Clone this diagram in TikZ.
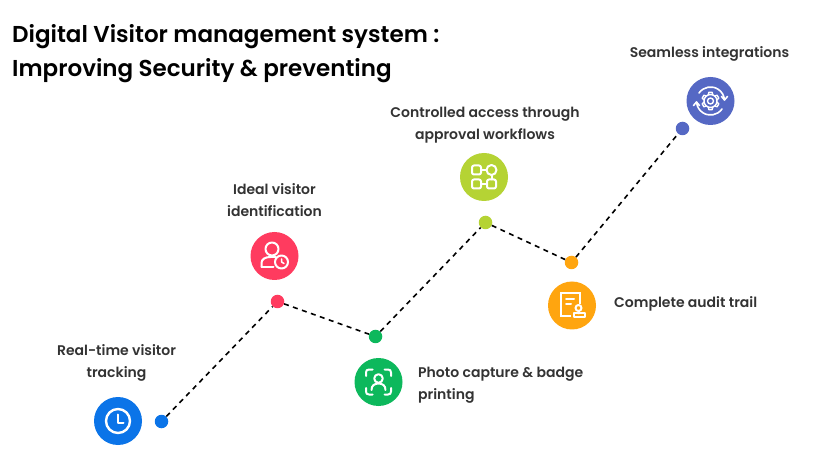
\documentclass[tikz,border=0pt]{standalone}
\usepackage{fontspec}
\setmainfont{Poppins}[UprightFont=* SemiBold,BoldFont=* SemiBold]
\usetikzlibrary{arrows.meta}
\definecolor{cblue}{HTML}{0B74E8}
\definecolor{cred}{HTML}{FF3B5F}
\definecolor{cgreen}{HTML}{0DB85C}
\definecolor{clime}{HTML}{B5D334}
\definecolor{corange}{HTML}{FFA50F}
\definecolor{cindigo}{HTML}{5568C4}
\definecolor{ctext}{HTML}{333333}
\tikzset{
  badge/.style={circle,fill=#1,minimum size=48pt,inner sep=0pt},
  dotpt/.style={circle,fill=#1,minimum size=13.5pt,inner sep=0pt},
  link/.style={draw=black,line width=1.6pt,dash pattern=on 5pt off 4.5pt},
  lbl/.style={font=\fontsize{14pt}{22pt}\selectfont,text=ctext,inner sep=0pt},
  ttl/.style={font=\fontsize{23pt}{33.5pt}\selectfont,text=black,inner sep=0pt,align=left,anchor=north west},
  ico/.style={draw=white,line width=2pt,fill=none,line cap=round,line join=round}
}
\begin{document}
\begin{tikzpicture}[x=1pt,y=-1pt]
\useasboundingbox (0,0) rectangle (822,470);
\fill[white] (0,0) rectangle (822,470);
\node[ttl] (title) at (12,24.5) {Digital Visitor management system :\\Improving Security \& preventing};

\node[dotpt=cblue] (d1) at (161.5,421.5) {};
\node[dotpt=cred] (d2) at (277.5,301.5) {};
\node[dotpt=cgreen] (d3) at (375.5,336.5) {};
\node[dotpt=clime] (d4) at (485.5,222.5) {};
\node[dotpt=corange] (d5) at (571.5,262.5) {};
\node[dotpt=cindigo] (d6) at (682.5,128.5) {};
\draw[link] (d1) -- (d2);
\draw[link] (d2) -- (d3);
\draw[link] (d3) -- (d4);
\draw[link] (d4) -- (d5);
\draw[link] (d5) -- (d6);

\node[badge=cblue] (b1) at (118,421) {};
\node[badge=cred] (b2) at (274.5,256) {};
\node[badge=cgreen] (b3) at (378.5,382) {};
\node[badge=clime] (b4) at (484,177) {};
\node[badge=corange] (b5) at (572,305.5) {};
\node[badge=cindigo] (b6) at (710.5,101) {};

% clock
\begin{scope}[shift={(b1.center)}]
\draw[ico,line width=2.4pt] (0,0) circle (12);
\draw[ico] (0,-6.5) -- (0,1.5) -- (5.5,1.5);
\end{scope}
% person with clock
\begin{scope}[shift={(b2.center)}]
\draw[ico] (-2.5,-7) circle (6.5);
\draw[ico] (-13,11) -- (-13,7) .. controls (-13,3) and (-9,1) .. (-4,1) -- (1,1);
\draw[ico] (-13,11) -- (-1,11);
\draw[ico] (7,6) circle (6.5);
\draw[ico,line width=1.5pt] (7,3) -- (7,6) -- (9.5,7.5);
\end{scope}
% face scan
\begin{scope}[shift={(b3.center)}]
\draw[ico] (-12.5,-6) -- (-12.5,-9.5) .. controls (-12.5,-11.5) and (-11.5,-12.5) .. (-9.5,-12.5) -- (-6,-12.5);
\draw[ico] (12.5,-6) -- (12.5,-9.5) .. controls (12.5,-11.5) and (11.5,-12.5) .. (9.5,-12.5) -- (6,-12.5);
\draw[ico] (-12.5,6) -- (-12.5,9.5) .. controls (-12.5,11.5) and (-11.5,12.5) .. (-9.5,12.5) -- (-6,12.5);
\draw[ico] (12.5,6) -- (12.5,9.5) .. controls (12.5,11.5) and (11.5,12.5) .. (9.5,12.5) -- (6,12.5);
\draw[ico] (0,-3.5) circle (4.3);
\draw[ico] (-7,8) .. controls (-7,3.5) and (-4,1.5) .. (0,1.5) .. controls (4,1.5) and (7,3.5) .. (7,8);
\end{scope}
% workflow
\begin{scope}[shift={(b4.center)}]
\draw[ico,rounded corners=2pt] (-12,-11.5) rectangle (-3,-2.5);
\draw[ico] (7.5,-7) circle (5);
\draw[ico,rounded corners=2pt] (-12,2.5) rectangle (-3,11.5);
\draw[ico,rounded corners=2pt] (3,2.5) rectangle (12,11.5);
\draw[ico] (-3,-7) -- (2.5,-7);
\draw[ico] (-3,7) -- (3,7);
\draw[ico] (7.5,-2) -- (7.5,2.5);
\end{scope}
% audit document
\begin{scope}[shift={(b5.center)}]
\draw[ico,line cap=butt,line join=miter] (-1,11) -- (-11.5,11) -- (-11.5,-12.5) -- (7.5,-12.5) -- (7.5,-1);
\draw[ico] (-6,-6) -- (2,-6);
\draw[ico] (-6,-1.5) -- (-1,-1.5);
\draw[ico] (6.5,2.5) circle (3);
\draw[ico] (2,12) rectangle (13,8);
\draw[ico] (6.5,5.5) -- (6.5,8);
\end{scope}
% gear with arrows
\begin{scope}[shift={(b6.center)}]
\foreach \a in {0,60,...,300}{
  \draw[ico,line width=1.4pt,rotate=\a] (-2.2,-6.2) -- (-1.7,-8.6) -- (1.7,-8.6) -- (2.2,-6.2);
}
\draw[ico,line width=1.4pt] (0,0) circle (6.5);
\draw[ico,line width=1.4pt] (0,0) circle (3);
\draw[ico,line width=1.6pt] (215:14) arc (215:355:14);
\draw[ico,line width=1.6pt] (35:14) arc (35:175:14);
\draw[ico,line width=1.6pt] (11,-4.5) -- (14,-1) -- (17,-4.5);
\draw[ico,line width=1.6pt] (-17,4.5) -- (-14,1) -- (-11,4.5);
\end{scope}

\node[lbl,align=center] (t1) at (116.5,362.5) {Real-time visitor\\tracking};
\node[lbl,align=center] (t2) at (274.5,200) {Ideal visitor\\identification};
\node[lbl,align=left,anchor=west] (t3) at (418,385) {Photo capture \& badge\\printing};
\node[lbl,align=center] (t4) at (485,125.5) {Controlled access through\\approval workflows};
\node[lbl,anchor=west] (t5) at (614,304) {Complete audit trail};
\node[lbl] (t6) at (709.5,54) {Seamless integrations};
\end{tikzpicture}
\end{document}
